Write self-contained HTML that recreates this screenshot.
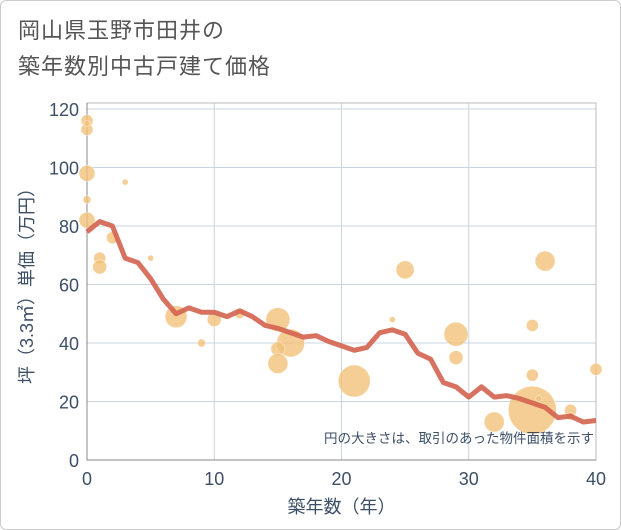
<!DOCTYPE html>
<html><head><meta charset="utf-8"><style>
html,body{margin:0;padding:0;background:#fff}
#wrap{position:relative;width:621px;height:530px;box-sizing:border-box;border:1px solid #ccc;border-radius:6px;overflow:hidden;font-family:"Liberation Sans","Noto Sans CJK JP",sans-serif}
#title{position:absolute;left:17px;top:12px;font-size:22px;line-height:36px;color:#555;letter-spacing:1px}
</style></head><body>
<div id="wrap">
<div id="title">岡山県玉野市田井の<br>築年数別中古戸建て価格</div>
<svg id="chart" width="621" height="530" style="position:absolute;left:-1px;top:-1px"></svg>
</div>
<script>
const avgYears=[0,1,2,3,4,5,6,7,8,9,10,11,12,13,14,15,16,17,18,19,20,21,22,23,24,25,26,27,28,29,30,31,32,33,34,35,36,37,38,39,40];
const avgPrices=[78,81.5,80,69,67.5,62,55,50,52,50.5,50.5,49,51,49,46,45,43.5,42,42.5,40.5,39,37.5,38.5,43.5,44.5,43,36.5,34.5,26.5,25,21.5,25,21.5,22,21,19.5,18,14.5,15,13,13.5];
const dotYears=[0,0,0,0,0,0,3,2,1,1,5,7,9,10,12,15,16,15,15,21,25,24,29,29,36,35,35,35,32,35.5,38,38,40];
const dotPrices=[116,113,98,89,82,115,95,76,69,66,69,49,40,48,50,48,40,38,33,27,65,48,43,35,68,46,29,17,13,21,17,15,31];
const dotSizes=[6,6,8,4,8,3,3,6,6,7,3,11,4,7,5,12,14,7,10,16,9,3,12,7,10,6,6,24,10,3,6,4,6];
const xTicks=[0,10,20,30,40];
const yTicks=[0,20,40,60,80,100,120];
const L=87,R=596,T=103,B=460;
const xs=v=>L+v/40*(R-L);
const ys=v=>B-v/120*(B-109);
const svg=document.getElementById('chart');
const NS='http://www.w3.org/2000/svg';
function mk(t,a){const e=document.createElementNS(NS,t);for(const k in a)e.setAttribute(k,a[k]);svg.appendChild(e);return e;}
yTicks.forEach(v=>{
 const g=mk('line',{x1:L,x2:R,y1:ys(v),y2:ys(v),stroke:'#c8d4e0','stroke-width':1});
 
 
 const t=mk('text',{x:L-8,y:ys(v)+7,'text-anchor':'end','font-size':18,fill:'#3d4f66'});
 t.textContent=v;
 
 
});
xTicks.forEach(v=>{
 const g=mk('line',{x1:xs(v),x2:xs(v),y1:T,y2:B,stroke:'#c8d4e0','stroke-width':1});
 
 
 const t=mk('text',{x:xs(v),y:B+25,'text-anchor':'middle','font-size':18,fill:'#3d4f66'});
 t.textContent=v;
 
 
});
const fr=mk('rect',{x:L,y:T,width:R-L,height:B-T,fill:'none',stroke:'#bbb','stroke-width':1});


const ax=mk('polyline',{points:L+','+T+' '+L+','+B+' '+R+','+B,fill:'none',stroke:'#888','stroke-width':1});


dotYears.forEach((x,i)=>{
 const c=mk('circle',{cx:xs(x),cy:ys(dotPrices[i]),r:dotSizes[i],fill:'#f3c27a','fill-opacity':0.8,stroke:'#fff','stroke-width':0.6,'stroke-opacity':0.6});
 
 
});
const p=mk('polyline',{points:avgYears.map((x,i)=>xs(x)+','+ys(avgPrices[i])).join(' '),fill:'none',stroke:'#d4634f','stroke-width':5,'stroke-linejoin':'round','stroke-opacity':0.9});


const n=mk('text',{x:R-2,y:443,'text-anchor':'end','font-size':13.5,fill:'#3d4f66'});
n.textContent='円の大きさは、取引のあった物件面積を示す';


const xt=mk('text',{x:(L+R)/2,y:513,'text-anchor':'middle','font-size':18,fill:'#3d4f66'});
xt.textContent='築年数（年）';


const yt=mk('text',{x:0,y:0,'text-anchor':'middle','font-size':18,fill:'#3d4f66',transform:'translate(33,'+((T+B)/2)+') rotate(-90)'});
yt.textContent='坪（3.3㎡）単価（万円）';


</script>
</body></html>
